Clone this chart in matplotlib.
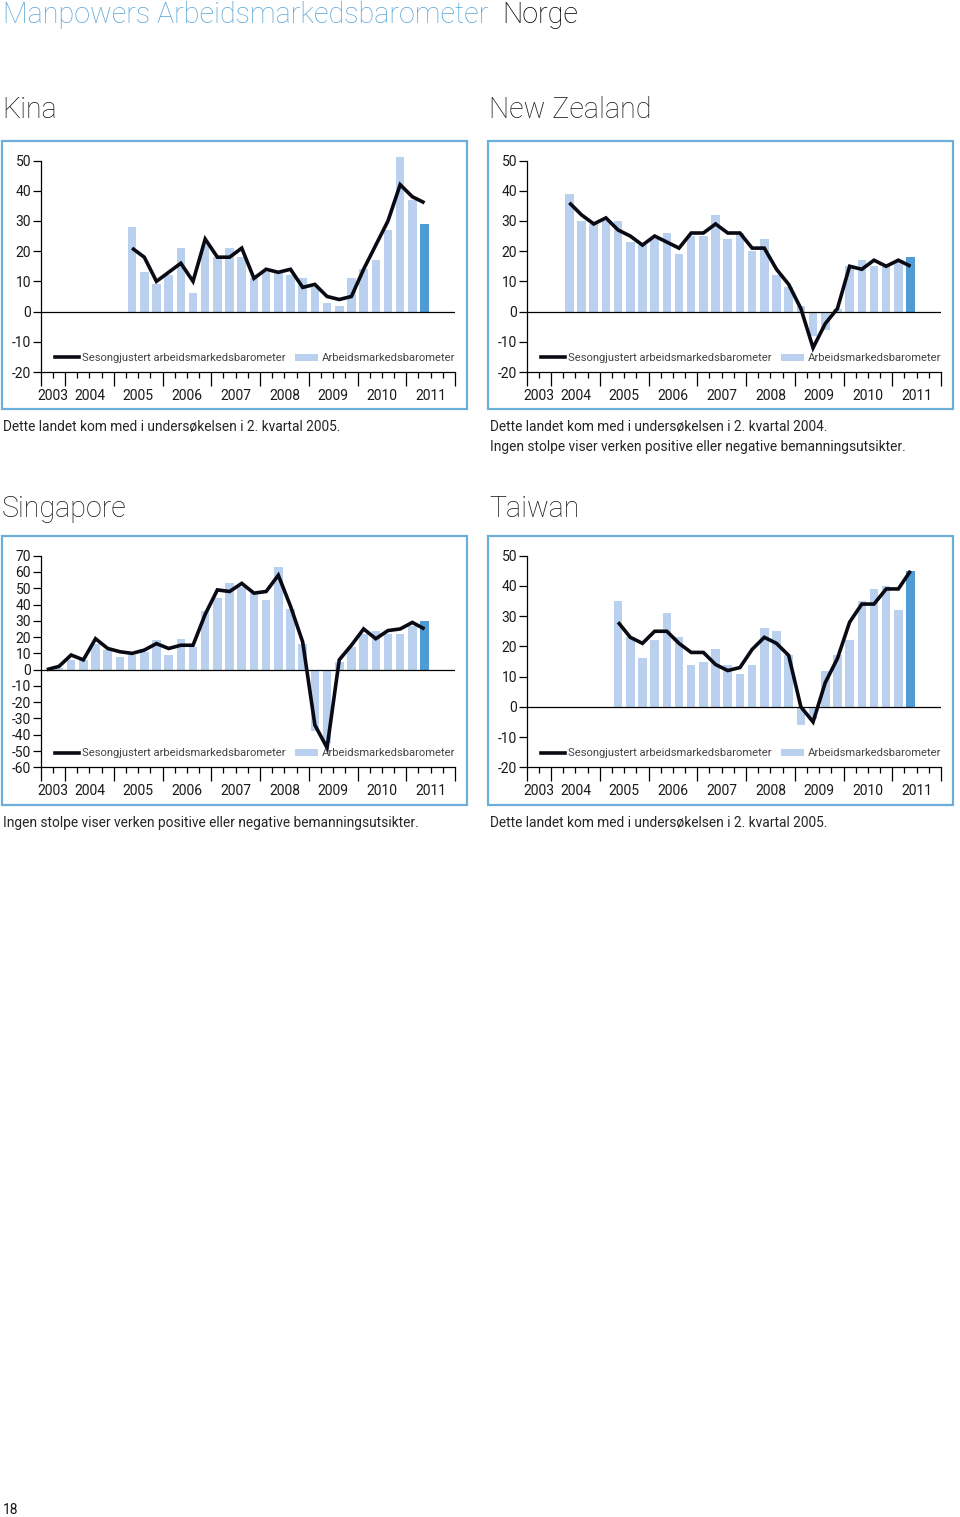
import matplotlib
matplotlib.use("Agg")
import matplotlib.pyplot as plt
from matplotlib.patches import Rectangle, Patch
from matplotlib.lines import Line2D

plt.rcParams['font.family'] = ['Roboto', 'DejaVu Sans']
plt.rcParams['font.weight'] = 'light'
plt.rcParams['axes.unicode_minus'] = False

# quarter axis: index 0 = 3rd quarter 2003, last index 33 = 4th quarter 2011
years = ['2003', '2004', '2005', '2006', '2007', '2008', '2009', '2010', '2011']
year_quarters = [2, 4, 4, 4, 4, 4, 4, 4, 4]

# Kina (from Q2 2005)
kina_start = 7
kina_bars = [28, 13, 9, 12, 21, 6, 22, 18, 21, 18, 11, 13, 13, 12, 11, 8, 3, 2, 11, 14, 17, 27, 51, 37, 29]
kina_line = [21, 18, 10, 13, 16, 10, 24, 18, 18, 21, 11, 14, 13, 14, 8, 9, 5, 4, 5, 14, 22, 30, 42, 38, 36]

# New Zealand (from Q2 2004)
nz_start = 3
nz_bars = [39, 30, 29, 30, 30, 23, 22, 24, 26, 19, 25, 25, 32, 24, 26, 20, 24, 12, 8, 2, -8, -6, 1, 15, 17, 15, 15, 17, 18]
nz_line = [36, 32, 29, 31, 27, 25, 22, 25, 23, 21, 26, 26, 29, 26, 26, 21, 21, 14, 9, 1, -12, -4, 1, 15, 14, 17, 15, 17, 15]

# Singapore (from Q3 2003)
sg_start = 0
sg_bars = [0, 1, 6, 6, 16, 12, 8, 9, 11, 18, 9, 19, 14, 36, 44, 53, 51, 47, 43, 63, 37, 16, -38, -45, 5, 14, 22, 24, 22, 22, 27, 30]
sg_line = [0, 2, 9, 6, 19, 13, 11, 10, 12, 16, 13, 15, 15, 34, 49, 48, 53, 47, 48, 58, 39, 17, -34, -48, 6, 15, 25, 19, 24, 25, 29, 25]

# Taiwan (from Q2 2005)
tw_start = 7
tw_bars = [35, 23, 16, 22, 31, 23, 14, 15, 19, 14, 11, 14, 26, 25, 17, -6, -4, 12, 17, 22, 35, 39, 40, 32, 45]
tw_line = [28, 23, 21, 25, 25, 21, 18, 18, 14, 12, 13, 19, 23, 21, 17, 0, -5, 8, 16, 28, 34, 34, 39, 39, 45]

light_blue = '#b9d1ee'
dark_blue = '#4f9bd4'
frame_blue = '#6aaed9'
head_blue = '#5ea7d6'
txt = '#1a1a1a'

W, H = 960, 1517
fig = plt.figure(figsize=(W / 100, H / 100), dpi=100)


def fx(px):
    return px / W


def fy(py):
    return 1 - py / H


def panel(box, ax_px, start, bars, line, ylo, yhi, step):
    # light blue frame round the chart
    x0, y0, x1, y1 = box
    fig.patches.append(Rectangle((fx(x0), fy(y1)), fx(x1 - x0), (y1 - y0) / H,
                                 transform=fig.transFigure, fill=False,
                                 edgecolor=frame_blue, linewidth=1.6))
    l, t, r, b = ax_px
    ax = fig.add_axes([fx(l), fy(b), fx(r - l), (b - t) / H])
    n_q = sum(year_quarters)
    xs = [start + i for i in range(len(bars))]
    cols = [light_blue] * (len(bars) - 1) + [dark_blue]
    ax.bar(xs, bars, width=0.7, color=cols, clip_on=False, zorder=2)
    ax.axhline(0, color='black', linewidth=0.9, zorder=3)
    ax.plot(xs, line, color='#0a0a14', linewidth=2.6, solid_joinstyle='miter',
            solid_capstyle='butt', zorder=4, clip_on=False)
    ax.set_xlim(-0.5, n_q - 0.5)
    ax.set_ylim(ylo, yhi)
    ax.set_yticks(range(ylo, yhi + 1, step))
    ax.set_yticklabels([str(v) for v in range(ylo, yhi + 1, step)], fontsize=10,
                       fontweight='normal', color=txt)
    bounds = [-0.5]
    for q in year_quarters:
        bounds.append(bounds[-1] + q)
    ax.set_xticks(bounds)
    ax.set_xticklabels([])
    ax.set_xticks([x - 0.5 for x in range(n_q + 1)], minor=True)
    ax.tick_params(axis='x', which='major', length=10, width=0.9, direction='out')
    ax.tick_params(axis='x', which='minor', length=4.5, width=0.9, direction='out')
    ax.tick_params(axis='y', length=6, width=0.9, pad=1)
    for s in ['top', 'right']:
        ax.spines[s].set_visible(False)
    for s in ['left', 'bottom']:
        ax.spines[s].set_linewidth(0.9)
    for i, yr in enumerate(years):
        mid = (bounds[i] + bounds[i + 1]) / 2
        ax.annotate(yr, xy=(mid, 0), xycoords=ax.get_xaxis_transform(),
                    xytext=(0, -24), textcoords='offset pixels',
                    ha='center', va='center', fontsize=10, fontweight='normal', color=txt)
    handles = [Line2D([], [], color='#0a0a14', linewidth=2.6),
               Patch(facecolor=light_blue, edgecolor='none')]
    leg = ax.legend(handles, ['Sesongjustert arbeidsmarkedsbarometer', 'Arbeidsmarkedsbarometer'],
                    ncol=2, frameon=False, fontsize=8.1, loc='center left',
                    bbox_to_anchor=(0.035, 0.066), borderpad=0, borderaxespad=0,
                    handlelength=2.1, handletextpad=0.3, columnspacing=0.8,
                    handleheight=0.6)
    for t_ in leg.get_texts():
        t_.set_fontweight('normal')
        t_.set_color('#444444')
    return ax


panel((2, 141, 467, 409), (40.7, 160.5, 455, 372), kina_start, kina_bars, kina_line, -20, 50, 10)
panel((488, 141, 953, 409), (526.7, 160.5, 941, 372), nz_start, nz_bars, nz_line, -20, 50, 10)
panel((2, 536, 467, 805), (40.7, 555.7, 455, 767.3), sg_start, sg_bars, sg_line, -60, 70, 10)
panel((488, 536, 953, 805), (526.7, 555.7, 941, 767.3), tw_start, tw_bars, tw_line, -20, 50, 10)

# header
fig.text(fx(3), fy(15), 'Manpowers Arbeidsmarkedsbarometer', color=head_blue,
         fontsize=20.7, va='center', ha='left')
fig.text(fx(502), fy(15), 'Norge', color='black', fontsize=20.7, va='center', ha='left')

# country titles
fig.text(fx(2), fy(110), 'Kina', fontsize=20.6, va='center', ha='left', color=txt)
fig.text(fx(489), fy(110), 'New Zealand', fontsize=20.6, va='center', ha='left', color=txt)
fig.text(fx(2), fy(509), 'Singapore', fontsize=20.6, va='center', ha='left', color=txt)
fig.text(fx(489), fy(509), 'Taiwan', fontsize=20.6, va='center', ha='left', color=txt)

# notes
note_kw = dict(fontsize=9.9, va='center', ha='left', fontweight='normal', color='#262626')
fig.text(fx(3), fy(427), 'Dette landet kom med i undersøkelsen i 2. kvartal 2005.', **note_kw)
fig.text(fx(490), fy(427), 'Dette landet kom med i undersøkelsen i 2. kvartal 2004.', **note_kw)
fig.text(fx(490), fy(447), 'Ingen stolpe viser verken positive eller negative bemanningsutsikter.', **note_kw)
fig.text(fx(3), fy(823), 'Ingen stolpe viser verken positive eller negative bemanningsutsikter.', **note_kw)
fig.text(fx(490), fy(823), 'Dette landet kom med i undersøkelsen i 2. kvartal 2005.', **note_kw)

fig.text(fx(3), fy(1510), '18', fontsize=10, va='center', ha='left', fontweight='normal', color=txt)

fig.savefig('out.png', dpi=100)
